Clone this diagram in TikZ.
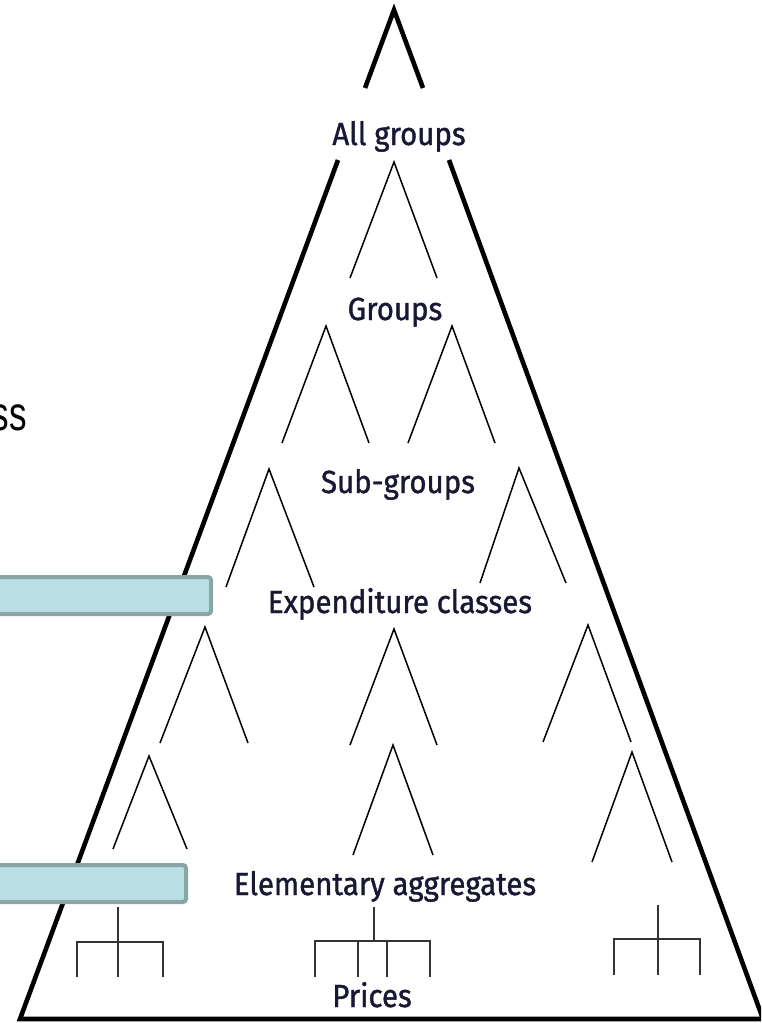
\documentclass[tikz,border=0pt]{standalone}
\usepackage{fontspec}
\newfontfamily\labfont[FakeStretch=0.92,FakeBold=1.2]{Fira Sans}
\newfontfamily\sidefont[FakeStretch=0.73]{Liberation Sans}
\definecolor{labink}{RGB}{24,24,52}
\definecolor{bandfill}{RGB}{185,223,226}
\definecolor{bandedge}{RGB}{138,165,166}
\tikzset{
  lbl/.style={anchor=base, inner sep=0pt, text=labink, font=\labfont\fontsize{16}{18}\selectfont},
  frame/.style={line width=2.3pt, line join=miter},
  twig/.style={line width=0.75pt},
  bracket/.style={line width=1.1pt, draw=black!80},
  band/.style={draw=bandedge, fill=bandfill, line width=2pt, rounded corners=1.5pt}
}
\begin{document}
\begin{tikzpicture}[x=0.5pt,y=-0.5pt]
\useasboundingbox (0,0) rectangle (761,1023);
\clip (0,0) rectangle (761,1023);

% outer hierarchy
\coordinate (apex) at (394,10);
\draw[frame] (365,88) -- (apex) -- (423,88);
\draw[frame] (338,160) -- (20,1019) -- (763,1019) -- (449,160);

% labels
\node[lbl] (allgroups) at (399,145) {All groups};
\node[lbl] (groups) at (395,320) {Groups};
\node[lbl] (subgroups) at (398,493) {Sub-groups};
\node[lbl] (expclasses) at (400,613) {Expenditure classes};
\node[lbl] (elemagg) at (385,895) {Elementary aggregates};
\node[lbl] (prices) at (372,1007) {Prices};

% branch forks
\foreach \ax/\ay/\lx/\rx/\fy in {394/162/350/437/278,
  326/326/282/369/443, 452/326/408/495/443,
  269/469/226/314/587, 519/468/480/566/583,
  205/627/160/248/743, 394/629/350/437/745, 588/625/543/631/742,
  149/756/113/187/849, 393/745/353/433/855, 632/752/592/672/862}
  \draw[twig] (\lx,\fy) -- (\ax,\ay) -- (\rx,\fy);

% price brackets
\draw[bracket] (118,907) -- (118,977);
\draw[bracket] (77,977) -- (77,942) -- (163,942) -- (163,977);
\draw[bracket] (374,907) -- (374,941);
\draw[bracket] (315,977) -- (315,941) -- (430,941) -- (430,977);
\draw[bracket] (358,941) -- (358,977);
\draw[bracket] (387,941) -- (387,977);
\draw[bracket] (658,905) -- (658,975);
\draw[bracket] (614,975) -- (614,939) -- (700,939) -- (700,975);

% side bands
\draw[band] (-10,577) rectangle (211,614);
\draw[band] (-10,865) rectangle (186,902);
\node[anchor=base east, inner sep=0pt, font=\sidefont\fontsize{24}{28}\selectfont] (sidetext) at (27,430) {ss};
\end{tikzpicture}
\end{document}
